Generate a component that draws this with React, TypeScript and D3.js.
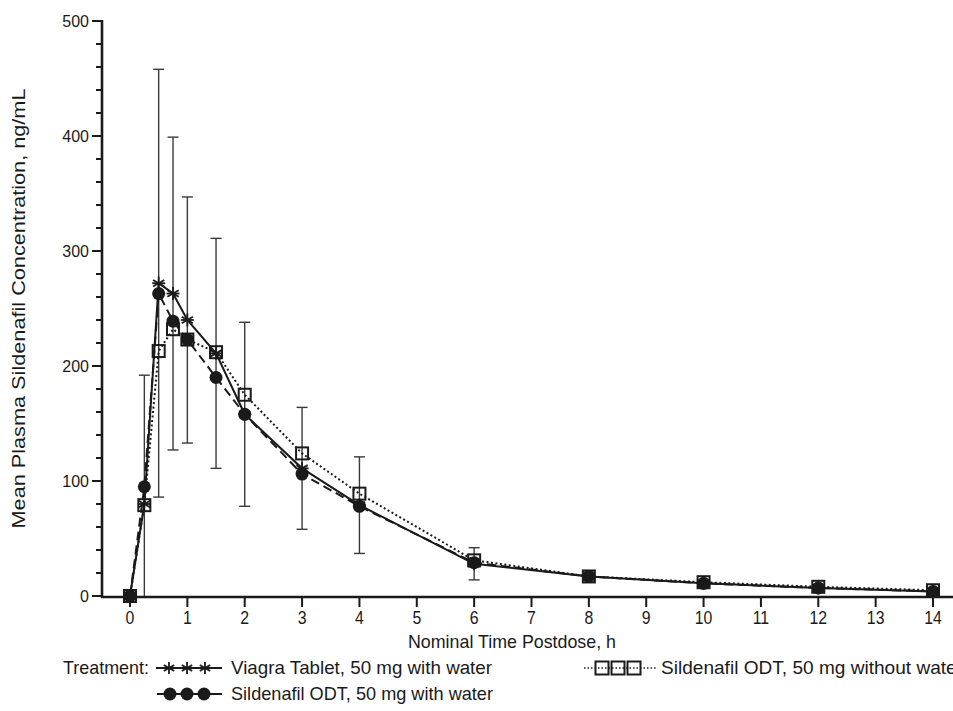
import React from "react";
import * as d3 from "d3";

// nominal sampling times, h
const times = [0, 0.25, 0.5, 0.75, 1, 1.5, 2, 3, 4, 6, 8, 10, 12, 14];

// mean plasma concentration, ng/mL
const viagraTablet = [0, 80, 272, 263, 240, 211, 158, 111, 79, 28, 17, 11, 7, 4];
const odtWithWater = [0, 95, 263, 239, 223, 190, 158, 106, 78, 29, 17, 11, 7, 4];
const odtWithoutWater = [0, 79, 213, 232, 223, 212, 175, 124, 89, 31, 17, 12, 8, 5];

// SD for the Viagra tablet arm (error bars)
const viagraSD = [0, 112, 186, 136, 107, 100, 80, 53, 42, 14, 5, 3, 2, 1];

const yMajor = [0, 100, 200, 300, 400, 500];
const xTicks = d3.range(0, 15);

const W = 953;
const H = 711;
const FONT = "'Liberation Sans', Arial, sans-serif";
const INK = "#1a1a1a";

const x = d3.scaleLinear().domain([0, 14]).range([130, 933]);
const y = d3.scaleLinear().domain([0, 500]).range([596, 21]);

type Pt = { t: number; v: number };
const toPts = (vals: number[]): Pt[] => times.map((t, i) => ({ t, v: vals[i] }));

const line = d3
  .line<Pt>()
  .x((d) => x(d.t))
  .y((d) => y(d.v));

function Star({ cx, cy, r = 6.5 }: { cx: number; cy: number; r?: number }) {
  const arms = [90, 30, 150];
  return (
    <g stroke={INK} strokeWidth={1.8}>
      {arms.map((a) => {
        const rad = (a * Math.PI) / 180;
        const dx = Math.cos(rad) * r;
        const dy = Math.sin(rad) * r;
        return <line key={a} x1={cx - dx} y1={cy - dy} x2={cx + dx} y2={cy + dy} />;
      })}
      <line x1={cx - r} x2={cx + r} y1={cy} y2={cy} />
    </g>
  );
}

function Square({ cx, cy, s = 12 }: { cx: number; cy: number; s?: number }) {
  return <rect x={cx - s / 2} y={cy - s / 2} width={s} height={s} fill="none" stroke={INK} strokeWidth={2} />;
}

function Dot({ cx, cy, r = 6.5 }: { cx: number; cy: number; r?: number }) {
  return <circle cx={cx} cy={cy} r={r} fill={INK} />;
}

export default function App() {
  const vPts = toPts(viagraTablet);
  const wPts = toPts(odtWithWater);
  const nPts = toPts(odtWithoutWater);
  const yMinor = d3.range(0, 501, 20).filter((v) => v % 100 !== 0);

  return (
    <svg width={W} height={H} style={{ position: "absolute", left: 0, top: 0, background: "#fff" }} fontFamily={FONT}>
      <rect width={W} height={H} fill="#fff" />

      {/* error bars (Viagra tablet, mean ± SD) */}
      <g stroke="#3a3a3a" strokeWidth={1.4}>
        {vPts.map((d, i) => {
          if (viagraSD[i] === 0) return null;
          const hi = y(d.v + viagraSD[i]);
          const lo = y(Math.max(0, d.v - viagraSD[i]));
          const px = x(d.t);
          return (
            <g key={i}>
              <line x1={px} x2={px} y1={hi} y2={lo} />
              <line x1={px - 5.5} x2={px + 5.5} y1={hi} y2={hi} />
              {d.v - viagraSD[i] > 0 && <line x1={px - 5.5} x2={px + 5.5} y1={lo} y2={lo} />}
            </g>
          );
        })}
      </g>

      {/* lines */}
      <path d={line(nPts) ?? ""} fill="none" stroke={INK} strokeWidth={2} strokeDasharray="2,2.5" />
      <path d={line(wPts) ?? ""} fill="none" stroke={INK} strokeWidth={2} strokeDasharray="9,5" />
      <path d={line(vPts) ?? ""} fill="none" stroke={INK} strokeWidth={2} />

      {/* markers */}
      {nPts.map((d, i) => (
        <Square key={"s" + i} cx={x(d.t)} cy={y(d.v)} />
      ))}
      {wPts.map((d, i) => (
        <Dot key={"c" + i} cx={x(d.t)} cy={y(d.v)} />
      ))}
      {vPts.map((d, i) => (
        <Star key={"v" + i} cx={x(d.t)} cy={y(d.v)} />
      ))}

      {/* y axis */}
      <line x1={102} x2={102} y1={y(500) - 1} y2={598} stroke={INK} strokeWidth={2.6} />
      {yMinor.map((v) => (
        <line key={v} x1={96} x2={102} y1={y(v)} y2={y(v)} stroke={INK} strokeWidth={2} />
      ))}
      {yMajor.map((v) => (
        <g key={v}>
          <line x1={92} x2={102} y1={y(v)} y2={y(v)} stroke={INK} strokeWidth={2} />
          <text x={89} y={y(v)} dy="0.35em" textAnchor="end" fontSize={16} fill={INK}>
            {v}
          </text>
        </g>
      ))}
      <text
        transform={`translate(25,${y(250)}) rotate(-90)`}
        textAnchor="middle"
        fontSize={18.5}
        fill={INK}
        textLength={440}
        lengthAdjust="spacingAndGlyphs"
      >
        Mean Plasma Sildenafil Concentration, ng/mL
      </text>

      {/* x axis */}
      <line x1={101} x2={W} y1={597} y2={597} stroke={INK} strokeWidth={2.6} />
      {xTicks.map((t) => (
        <g key={t}>
          <line x1={x(t)} x2={x(t)} y1={597} y2={607} stroke={INK} strokeWidth={2} />
          <text
            x={x(t)}
            y={624}
            textAnchor="middle"
            fontSize={18}
            fill={INK}
            transform={`translate(${x(t)},0) scale(0.88,1) translate(${-x(t)},0)`}
          >
            {t}
          </text>
        </g>
      ))}
      <text x={408} y={648} fontSize={18.5} fill={INK} textLength={208} lengthAdjust="spacingAndGlyphs">
        Nominal Time Postdose, h
      </text>

      {/* legend */}
      <g fontSize={18.5} fill={INK}>
        <text x={63} y={674} textLength={86} lengthAdjust="spacingAndGlyphs">
          Treatment:
        </text>
        <line x1={156} x2={222} y1={668} y2={668} stroke={INK} strokeWidth={2} />
        {[169, 187, 205].map((cx) => (
          <Star key={cx} cx={cx} cy={668} r={6} />
        ))}
        <text x={231} y={674} textLength={261} lengthAdjust="spacingAndGlyphs">
          Viagra Tablet, 50 mg with water
        </text>

        <line x1={157} x2={222} y1={694} y2={694} stroke={INK} strokeWidth={2} />
        {[170, 187, 204].map((cx) => (
          <Dot key={cx} cx={cx} cy={694} r={6.5} />
        ))}
        <text x={231} y={700} textLength={262} lengthAdjust="spacingAndGlyphs">
          Sildenafil ODT, 50 mg with water
        </text>

        <line x1={584} x2={657} y1={668} y2={668} stroke={INK} strokeWidth={1.5} strokeDasharray="1.5,2" />
        {[602, 618, 634].map((cx) => (
          <Square key={cx} cx={cx} cy={668} s={13} />
        ))}
        <text x={661} y={674} textLength={302} lengthAdjust="spacingAndGlyphs">
          Sildenafil ODT, 50 mg without water
        </text>
      </g>
    </svg>
  );
}
